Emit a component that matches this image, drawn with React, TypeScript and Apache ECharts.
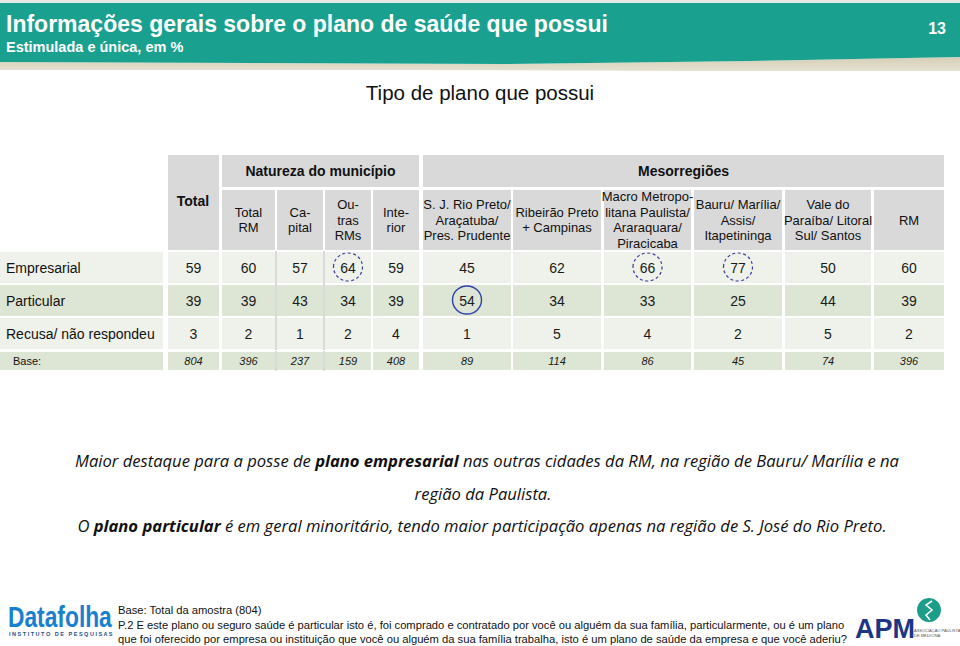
import React, { useEffect, useRef } from "react";
import * as echarts from "echarts";

// ---- data ----
const columnHeaders = [
  "Total\nRM",
  "Ca-\npital",
  "Ou-\ntras\nRMs",
  "Inte-\nrior",
  "S. J. Rio Preto/\nAraçatuba/\nPres. Prudente",
  "Ribeirão Preto\n+ Campinas",
  "Macro Metropo-\nlitana Paulista/\nAraraquara/\nPiracicaba",
  "Bauru/ Marília/\nAssis/\nItapetininga",
  "Vale do\nParaíba/ Litoral\nSul/ Santos",
  "RM",
];
const groupHeaders = ["Natureza do município", "Mesorregiões"];
const rowLabels = ["Empresarial", "Particular", "Recusa/ não respondeu", "Base:"];
const empresarial = [59, 60, 57, 64, 59, 45, 62, 66, 77, 50, 60];
const particular = [39, 39, 43, 34, 39, 54, 34, 33, 25, 44, 39];
const recusa = [3, 2, 1, 2, 4, 1, 5, 4, 2, 5, 2];
const bases = [804, 396, 237, 159, 408, 89, 114, 86, 45, 74, 396];
// highlights: [column, row, dashed(1)/solid(0)]
const highlights = [
  [3, 0, 1],
  [7, 0, 1],
  [8, 0, 1],
  [5, 1, 0],
];

// ---- layout ----
const COL_X = [
  [168, 219], [222, 275], [277, 323], [325, 371], [373, 419],
  [423, 511], [513, 601], [604, 691], [694, 782], [785, 871], [874, 944],
];
const ROW_Y = [[252, 283], [285, 316], [318, 349], [352, 370]];
const ROW_FILL = ["#eef2ea", "#dde6d4", "#eef2ea", "#dde6d4"];
const HEAD_FILL = "#d9d9d9";
const FONT = "'Liberation Sans', Arial, Helvetica, sans-serif";

export default function App() {
  const ref = useRef<HTMLDivElement>(null);
  useEffect(() => {
    const chart = echarts.init(ref.current!, null, { renderer: "svg" });
    const rows = [empresarial, particular, recusa, bases];
    const cellData: number[][] = [];
    rows.forEach((arr, r) => arr.forEach((v, c) => cellData.push([c, r, v])));

    const graphics: any[] = [];
    // banner
    graphics.push({ type: "rect", shape: { x: 0, y: 0, width: 960, height: 3 }, style: { fill: "#e4e9e6" } });
    graphics.push({
      type: "polygon",
      shape: { points: [[0, 70], [0, 62], [250, 63], [500, 64], [750, 61], [960, 57], [960, 71], [700, 71], [400, 70]] },
      style: {
        fill: new echarts.graphic.LinearGradient(0, 0, 0, 1, [
          { offset: 0, color: "#d5cfb7" },
          { offset: 1, color: "#e6e1d0" },
        ]),
      },
    });
    graphics.push({
      type: "polygon",
      shape: { points: [[0, 3], [960, 3], [960, 57], [750, 61], [500, 64], [250, 63], [0, 62]] },
      style: { fill: "#1aa08f" },
    });
    graphics.push({
      type: "text",
      style: { text: "Informações gerais sobre o plano de saúde que possui", x: 6, y: 24, fill: "#fff", fontSize: 23, fontWeight: "bold", fontFamily: FONT, verticalAlign: "middle" },
    });
    graphics.push({
      type: "text",
      style: { text: "Estimulada e única, em %", x: 6, y: 47, fill: "#fff", fontSize: 14.5, fontWeight: "bold", fontFamily: FONT, verticalAlign: "middle" },
    });
    graphics.push({
      type: "text",
      style: { text: "13", x: 946, y: 28, fill: "#fff", fontSize: 16, fontWeight: "bold", fontFamily: FONT, align: "right", verticalAlign: "middle" },
    });
    graphics.push({
      type: "text",
      style: { text: "Tipo de plano que possui", x: 480, y: 92, fill: "#111", fontSize: 20.5, fontFamily: FONT, align: "center", verticalAlign: "middle" },
    });

    // table headers
    graphics.push({ type: "rect", shape: { x: 168, y: 155, width: 51, height: 95 }, style: { fill: HEAD_FILL } });
    graphics.push({
      type: "text",
      style: { text: "Total", x: 193, y: 201, fill: "#111", fontSize: 14, fontWeight: "bold", fontFamily: FONT, align: "center", verticalAlign: "middle" },
    });
    const groups = [[222, 419], [423, 944]];
    groups.forEach((g, i) => {
      graphics.push({ type: "rect", shape: { x: g[0], y: 155, width: g[1] - g[0], height: 32 }, style: { fill: HEAD_FILL } });
      graphics.push({
        type: "text",
        style: { text: groupHeaders[i], x: (g[0] + g[1]) / 2, y: 171, fill: "#111", fontSize: 14, fontWeight: "bold", fontFamily: FONT, align: "center", verticalAlign: "middle" },
      });
    });
    columnHeaders.forEach((h, i) => {
      const [x0, x1] = COL_X[i + 1];
      graphics.push({ type: "rect", shape: { x: x0, y: 190, width: x1 - x0, height: 60 }, style: { fill: HEAD_FILL } });
    });
    columnHeaders.forEach((h, i) => {
      const [x0, x1] = COL_X[i + 1];
      graphics.push({
        type: "text",
        style: { text: h, x: (x0 + x1) / 2, y: 220, fill: "#111", fontSize: 13, lineHeight: 15.5, fontFamily: FONT, align: "center", verticalAlign: "middle" },
      });
    });
    // row labels
    rowLabels.forEach((lab, r) => {
      const [y0, y1] = ROW_Y[r];
      graphics.push({ type: "rect", shape: { x: 0, y: y0, width: 163, height: y1 - y0 }, style: { fill: ROW_FILL[r] } });
      graphics.push({
        type: "text",
        style: { text: lab, x: r === 3 ? 13 : 6, y: (y0 + y1) / 2, fill: "#111", fontSize: r === 3 ? 11 : 14, fontFamily: FONT, verticalAlign: "middle" },
      });
    });

    // comment
    const cf = "'Open Sans', 'Noto Sans', sans-serif";
    const rich = {
      i: { fontStyle: "italic", fontSize: 16.6, fontFamily: cf, fill: "#111" },
      b: { fontStyle: "italic", fontWeight: "bold", fontSize: 16.6, fontFamily: cf, fill: "#111" },
    };
    graphics.push({
      type: "text",
      style: {
        text: "{i|Maior destaque para a posse de }{b|plano empresarial}{i| nas outras cidades da RM, na região de Bauru/ Marília e na}",
        x: 487, y: 460, align: "center", verticalAlign: "middle", rich,
      },
    });
    graphics.push({
      type: "text",
      style: { text: "{i|região da Paulista.}", x: 483, y: 493, align: "center", verticalAlign: "middle", rich },
    });
    graphics.push({
      type: "text",
      style: {
        text: "{i|O }{b|plano particular}{i| é em geral minoritário, tendo maior participação apenas na região de S. José do Rio Preto.}",
        x: 482, y: 525, align: "center", verticalAlign: "middle", rich,
      },
    });

    // footer
    graphics.push({
      type: "text",
      style: { text: "Datafolha", x: 8, y: 617, fill: "#1b7fcf", fontSize: 30, fontWeight: 900, fontFamily: FONT, verticalAlign: "middle" },
      scaleX: 0.76,
      originX: 8,
    });
    graphics.push({
      type: "text",
      style: { text: "I N S T I T U T O   D E   P E S Q U I S A S", x: 9, y: 634, fill: "#1b4f8f", fontSize: 5.5, fontWeight: "bold", fontFamily: FONT, verticalAlign: "middle" },
    });
    const foot = [
      "Base: Total da amostra (804)",
      "P.2 E este plano ou seguro saúde é particular isto é, foi comprado e contratado por você ou alguém da sua família, particularmente, ou é um plano",
      "que foi oferecido por empresa ou instituição que você ou alguém da sua família trabalha, isto é um plano de saúde da empresa e que você aderiu?",
    ];
    foot.forEach((t, i) => {
      graphics.push({
        type: "text",
        style: { text: t, x: 118, y: 610 + i * 14.5, fill: "#111", fontSize: 11.2, fontFamily: FONT, verticalAlign: "middle" },
      });
    });
    graphics.push({
      type: "text",
      style: { text: "APM", x: 855, y: 629, fill: "#1d3585", fontSize: 27, fontWeight: 900, fontFamily: FONT, verticalAlign: "middle" },
    });
    graphics.push({ type: "circle", shape: { cx: 929, cy: 610, r: 12 }, style: { fill: "#1c9d8a" } });
    graphics.push({
      type: "polyline",
      shape: { points: [[932, 601], [926, 605], [932, 610], [926, 615], [930, 620]] },
      style: { stroke: "#fff", lineWidth: 1.6, fill: "none" },
    });
    graphics.push({
      type: "text",
      style: { text: "ASSOCIAÇÃO PAULISTA\nDE MEDICINA", x: 914, y: 633, fill: "#555", fontSize: 4, lineHeight: 5, fontFamily: FONT, verticalAlign: "middle" },
    });

    chart.setOption({
      animation: false,
      backgroundColor: "#ffffff",
      grid: { left: 0, top: 0, width: 960, height: 646 },
      xAxis: { type: "value", min: 0, max: 960, show: false },
      yAxis: { type: "value", min: 0, max: 646, inverse: true, show: false },
      graphic: graphics,
      series: [
        {
          type: "custom",
          silent: true,
          clip: false,
          data: cellData,
          renderItem: (params: any, api: any) => {
            const c = api.value(0);
            const r = api.value(1);
            const v = api.value(2);
            const p0 = api.coord([COL_X[c][0], ROW_Y[r][0]]);
            const p1 = api.coord([COL_X[c][1], ROW_Y[r][1]]);
            const children: any[] = [
              { type: "rect", shape: { x: p0[0], y: p0[1], width: p1[0] - p0[0], height: p1[1] - p0[1] }, style: { fill: ROW_FILL[r] } },
              {
                type: "text",
                style: {
                  text: String(v),
                  x: (p0[0] + p1[0]) / 2,
                  y: (p0[1] + p1[1]) / 2,
                  align: "center",
                  verticalAlign: "middle",
                  fontSize: r === 3 ? 11 : 14,
                  fontStyle: r === 3 ? "italic" : "normal",
                  fontFamily: FONT,
                  fill: "#1a1a1a",
                },
              },
            ];
            if (c === 1 || c === 2) {
              children.push({
                type: "line",
                shape: { x1: p1[0] + 1, y1: p0[1] - 1, x2: p1[0] + 1, y2: p1[1] + 1 },
                style: { stroke: "#b4b4b4", lineWidth: 1 },
              });
            }
            return { type: "group", children };
          },
        },
        {
          type: "custom",
          silent: true,
          clip: false,
          data: highlights,
          renderItem: (params: any, api: any) => {
            const c = api.value(0);
            const r = api.value(1);
            const dashed = api.value(2) === 1;
            const p0 = api.coord([COL_X[c][0], ROW_Y[r][0]]);
            const p1 = api.coord([COL_X[c][1], ROW_Y[r][1]]);
            return {
              type: "ellipse",
              shape: { cx: (p0[0] + p1[0]) / 2, cy: (p0[1] + p1[1]) / 2 - 0.5, rx: 14.5, ry: 14 },
              style: dashed
                ? { fill: "none", stroke: "#3d3d9c", lineWidth: 1.2, lineDash: [3, 2.5] }
                : { fill: "none", stroke: "#2f40a8", lineWidth: 1.4 },
            };
          },
        },
      ],
    });
    return () => chart.dispose();
  }, []);
  return (
    <div
      ref={ref}
      style={{ position: "absolute", left: 0, top: 0, width: 960, height: 646, background: "#fff" }}
    />
  );
}
